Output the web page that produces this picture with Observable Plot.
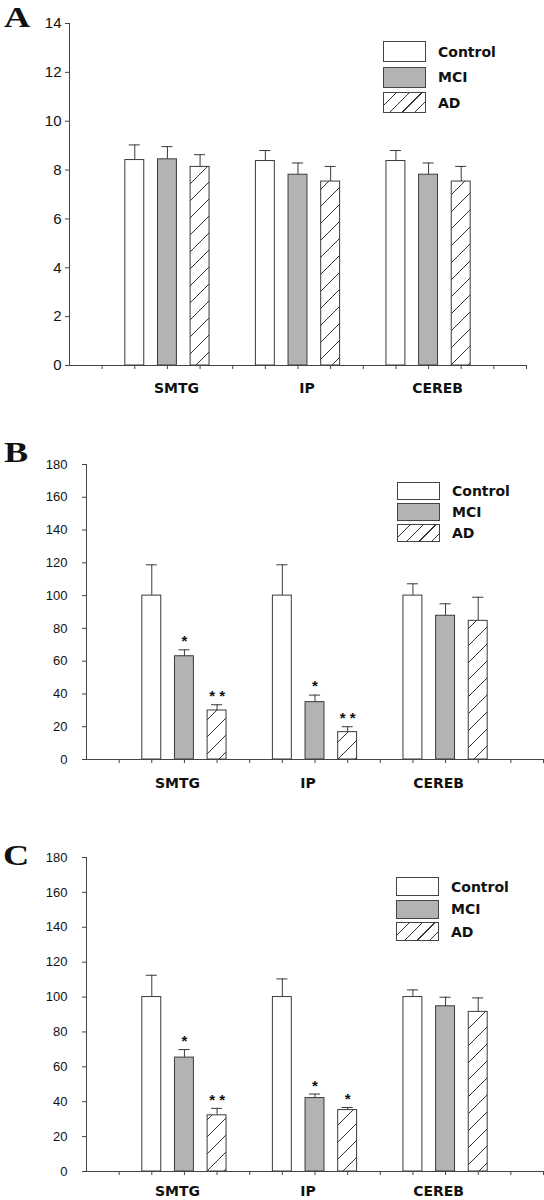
<!DOCTYPE html>
<html><head><meta charset="utf-8">
<script src="https://cdn.jsdelivr.net/npm/d3@7"></script>
<script src="https://cdn.jsdelivr.net/npm/@observablehq/plot@0.6"></script>
<style>
body{margin:0;background:#fff;}
#root{position:relative;width:544px;height:1200px;overflow:hidden;background:#fff;}
#root svg{display:block;}
.letter{position:absolute;font-family:"Liberation Serif","Times New Roman",serif;font-weight:bold;font-size:29px;line-height:29px;color:#111;transform:scaleX(1.25);transform-origin:left top;}
.leg{position:absolute;font-family:"DejaVu Sans",sans-serif;font-weight:bold;font-size:14px;color:#111;}
.row{position:absolute;left:0;display:flex;align-items:center;white-space:nowrap;}
.sw{box-sizing:border-box;border:1px solid #444;width:43px;margin-right:12px;}
</style></head>
<body>
<div id="root"></div>
<script>
// ---- data ----
const groups = ["SMTG", "IP", "CEREB"];
const seriesNames = ["Control", "MCI", "AD"];
const seriesFill = ["#ffffff", "#b3b3b3", "hatch"];

// Panel A (rows: SMTG, IP, CEREB; columns: Control, MCI, AD)
const aMean = [[8.41, 8.44, 8.13], [8.37, 7.81, 7.53], [8.37, 7.81, 7.53]];
const aSem  = [[0.62, 0.52, 0.50], [0.43, 0.48, 0.62], [0.43, 0.48, 0.62]];
const aSig  = [["", "", ""], ["", "", ""], ["", "", ""]];
const aTicks = [0, 2, 4, 6, 8, 10, 12, 14];

// Panel B
const bMean = [[100, 63.0, 29.9], [100, 35.0, 16.7], [100, 87.7, 84.6]];
const bSem  = [[18.8, 3.9, 3.5], [18.8, 4.3, 3.3], [7.2, 7.3, 14.4]];
const bSig  = [["", "*", "**"], ["", "*", "**"], ["", "", ""]];

// Panel C
const cMean = [[100, 65.3, 32.2], [100, 42.1, 35.2], [100, 94.7, 91.5]];
const cSem  = [[12.5, 4.6, 4.0], [10.4, 2.3, 1.5], [4.1, 5.2, 8.0]];
const cSig  = [["", "*", "**"], ["", "*", "*"], ["", "", ""]];
const bcTicks = [0, 20, 40, 60, 80, 100, 120, 140, 160, 180];

const slotTicks = d3.range(1, 15);

function rowsOf(mean, sem, sig) {
  const out = [];
  groups.forEach((g, gi) => seriesNames.forEach((s, si) => {
    out.push({group: g, series: s, si, pos: 2 + 4 * gi + si,
      mean: mean[gi][si], top: mean[gi][si] + sem[gi][si], sig: sig[gi][si]});
  }));
  return out;
}

function panel(cfg) {
  const data = rowsOf(cfg.mean, cfg.sem, cfg.sig);
  const pid = "hatch" + cfg.id;
  const defs = () => {
    const ns = "http://www.w3.org/2000/svg";
    const d = document.createElementNS(ns, "defs");
    d.innerHTML = `<pattern id="${pid}" patternUnits="userSpaceOnUse" width="17" height="17">
      <path d="M0,17 L17,0 M-3,3 L3,-3 M14,20 L20,14" stroke="#333" stroke-width="1" fill="none"/></pattern>`;
    return d;
  };
  const barMarks = seriesNames.map((s, si) => Plot.rectY(data.filter(d => d.si === si), {
    x1: d => d.pos - 0.29, x2: d => d.pos + 0.29, y1: 0, y2: "mean",
    fill: seriesFill[si] === "hatch" ? `url(#${pid})` : seriesFill[si],
    stroke: "#3a3a3a", strokeWidth: 1
  }));
  return Plot.plot({
    width: 544, height: 400,
    marginLeft: cfg.ml, marginRight: cfg.mr, marginTop: cfg.mt, marginBottom: cfg.mb,
    style: {fontFamily: "'Liberation Sans', Arial, sans-serif", fontSize: cfg.fs + "px", color: "#111", background: "white"},
    x: {domain: [0, 14], axis: null, label: null},
    y: {domain: [0, cfg.ymax], axis: null, label: null},
    marks: [
      defs,
      Plot.ruleX(data, {x: "pos", y1: "mean", y2: "top", stroke: "#3a3a3a"}),
      Plot.ruleY(data, {y: "top", x1: d => d.pos - 0.17, x2: d => d.pos + 0.17, stroke: "#3a3a3a"}),
      ...barMarks,
      Plot.text(data.filter(d => d.sig), {x: "pos", y: "top", text: d => d.sig.split("").join(" "), dy: cfg.starDy, fontSize: 15, fontWeight: "bold", fill: "#111"}),
      Plot.ruleX([0], {stroke: "#444"}),
      Plot.ruleY([0], {stroke: "#444"}),
      Plot.axisY({ticks: cfg.yticks, tickSize: 4, tickPadding: cfg.tp, stroke: "#444", fill: "#111", fontSize: cfg.fs, label: null}),
      Plot.axisX({ticks: slotTicks, tickSize: 4, tickFormat: () => "", stroke: "#444", label: null}),
      Plot.text(groups, {x: (d, i) => 3 + 4 * i, y: 0, text: d => d, dy: cfg.labDy, dx: cfg.labDx,
        fontFamily: "'DejaVu Sans', sans-serif", fontWeight: "bold", fontSize: 14, fill: "#111"})
    ]
  });
}

const root = document.getElementById("root");
const panels = [
  {id: "A", mean: aMean, sem: aSem, sig: aSig, ymax: 14, yticks: aTicks, ml: 69, mr: 18, mt: 23, mb: 35, fs: 15, tp: 4, labDy: 23, labDx: 9, starDy: -9},
  {id: "B", mean: bMean, sem: bSem, sig: bSig, ymax: 180, yticks: bcTicks, ml: 86, mr: 1, mt: 64, mb: 41, fs: 13, tp: 15, labDy: 24, labDx: -7, starDy: -9},
  {id: "C", mean: cMean, sem: cSem, sig: cSig, ymax: 180, yticks: bcTicks, ml: 86, mr: 1, mt: 57, mb: 29, fs: 13, tp: 15, labDy: 20, labDx: -7, starDy: -8}
];
panels.forEach(p => root.appendChild(panel(p)));

// panel letters
const letters = [{t: "A", left: 4, top: 3}, {t: "B", left: 4, top: 438}, {t: "C", left: 3, top: 841}];
letters.forEach(l => {
  const el = document.createElement("div");
  el.className = "letter"; el.textContent = l.t;
  el.style.left = l.left + "px"; el.style.top = l.top + "px";
  root.appendChild(el);
});

// legends
const legends = [
  {left: 383, top: 41, h: 21, gap: 25.5},
  {left: 397, top: 482, h: 18, gap: 21},
  {left: 396, top: 877, h: 19, gap: 22.5}
];
const swatchBg = [
  "#ffffff",
  "#b3b3b3",
  "repeating-linear-gradient(135deg, #ffffff 0px, #ffffff 8px, #333 8px, #333 9px)"
];
legends.forEach(L => {
  const box = document.createElement("div");
  box.className = "leg";
  box.style.left = L.left + "px"; box.style.top = L.top + "px";
  seriesNames.forEach((s, i) => {
    const row = document.createElement("div");
    row.className = "row";
    row.style.top = (i * L.gap) + "px";
    const sw = document.createElement("div");
    sw.className = "sw";
    sw.style.height = L.h + "px";
    sw.style.background = swatchBg[i];
    const tx = document.createElement("span");
    tx.textContent = s;
    row.appendChild(sw); row.appendChild(tx);
    box.appendChild(row);
  });
  root.appendChild(box);
});
</script>
</body></html>
